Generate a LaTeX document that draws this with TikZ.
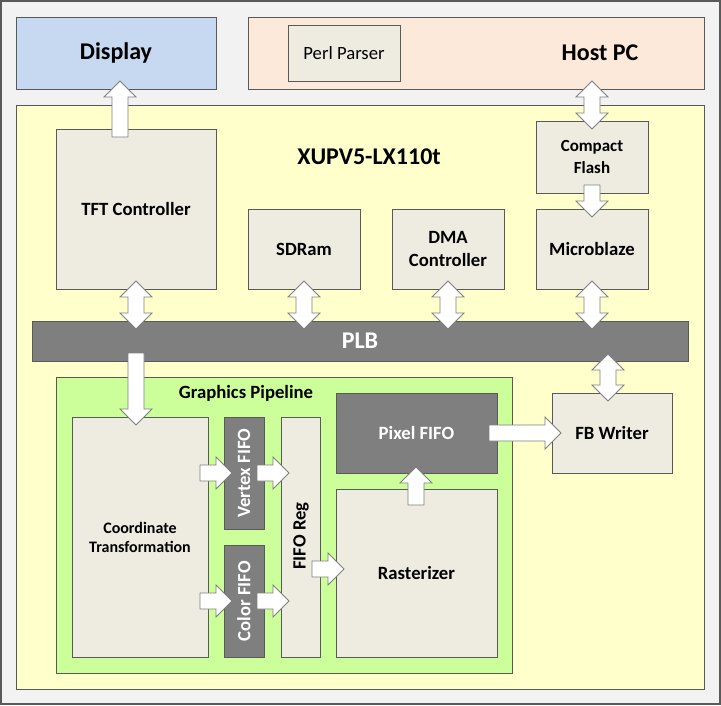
\documentclass[tikz,border=0pt]{standalone}
\usepackage{fontspec}
\setmainfont{Carlito}
\definecolor{frame}{HTML}{595959}
\definecolor{bgc}{HTML}{F2F2F2}
\definecolor{dispc}{HTML}{C6D9F1}
\definecolor{hostc}{HTML}{FDE9D9}
\definecolor{lightc}{HTML}{EEECE1}
\definecolor{yelc}{HTML}{FFFFCC}
\definecolor{grnc}{HTML}{CCFF99}
\definecolor{darkc}{HTML}{7F7F7F}
\newcommand\bx[7]{\node[#6,minimum width={#4-#2},minimum height={#5-#3},inner sep=0pt] (#1) at ({(#2+#4)/2},{(#3+#5)/2}) {#7};}
% vertical single arrow: x, ytail, ytip, h (+16 down, -16 up)
\newcommand\varr[4]{\draw[blkarrow] (#1-8,#2) -- (#1+8,#2) -- (#1+8,#3-#4) -- (#1+16,#3-#4) -- (#1,#3) -- (#1-16,#3-#4) -- (#1-8,#3-#4) -- cycle;}
% horizontal single arrow to the right: y, xtail, xtip
\newcommand\harr[3]{\draw[blkarrow] (#2,#1-8) -- (#3-16,#1-8) -- (#3-16,#1-16) -- (#3,#1) -- (#3-16,#1+16) -- (#3-16,#1+8) -- (#2,#1+8) -- cycle;}
% vertical double arrow: x, ytop, ybot
\newcommand\vdbl[3]{\draw[blkarrow] (#1,#2) -- (#1+16,#2+16) -- (#1+8,#2+16) -- (#1+8,#3-16) -- (#1+16,#3-16) -- (#1,#3) -- (#1-16,#3-16) -- (#1-8,#3-16) -- (#1-8,#2+16) -- (#1-16,#2+16) -- cycle;}
\tikzset{
  boxline/.style={draw=frame,line width=0.9pt},
  lightbox/.style={boxline,fill=lightc,align=center,font=\fontsize{18.7}{23}\selectfont\bfseries},
  darkbox/.style={boxline,fill=darkc,text=white,align=center,font=\fontsize{18.7}{23}\selectfont\bfseries},
  blkarrow/.style={draw=darkc,fill=white,line width=0.8pt,line join=miter},
  bigtxt/.style={font=\fontsize{24}{28}\selectfont\bfseries},
  midtxt/.style={font=\fontsize{18.7}{23}\selectfont\bfseries},
}
\begin{document}
\begin{tikzpicture}[x=1pt,y=-1pt]
\useasboundingbox (0,0) rectangle (721,705);
\node[draw=frame,fill=bgc,line width=2.5pt,minimum width=719pt,minimum height=703pt,inner sep=0pt] (outer) at (360.5,352.5) {};
% top row
\bx{display}{16}{17}{216}{89}{boxline,fill=dispc,bigtxt}{Display}
\bx{host}{248}{17}{704}{89}{boxline,fill=hostc}{}
\node[bigtxt] (hostlbl) at (600,53) {Host PC};
\bx{perl}{288}{25}{400}{81}{boxline,fill=lightc,font=\fontsize{18.7}{23}\selectfont}{Perl Parser}
% board
\bx{board}{16}{105}{704}{689}{boxline,fill=yelc}{}
\node[bigtxt] (boardlbl) at (369,157) {XUPV5-LX110t};
\bx{tft}{56}{129}{216}{289}{lightbox}{TFT Controller}
\bx{cf}{536}{121}{648}{193}{lightbox,font=\fontsize{17}{22}\selectfont\bfseries}{Compact\\Flash}
\bx{sdram}{248}{209}{360}{289}{lightbox}{SDRam}
\bx{dma}{392}{209}{504}{289}{lightbox}{DMA\\Controller}
\bx{mb}{536}{209}{648}{289}{lightbox}{Microblaze}
\bx{plb}{32}{321}{688}{361}{darkbox,font=\fontsize{24}{28}\selectfont\bfseries}{PLB}
\bx{fbw}{552}{393}{672}{473}{lightbox}{FB Writer}
% graphics pipeline
\bx{gp}{56}{377}{512}{673}{boxline,fill=grnc}{}
\node[midtxt] (gplbl) at (246,393) {Graphics Pipeline};
\bx{coord}{72}{417}{208}{657}{lightbox,font=\fontsize{16}{19}\selectfont\bfseries}{Coordinate\\Transformation}
\bx{vfifo}{224}{417}{264}{529}{darkbox}{}
\node[midtxt,text=white,rotate=90] (vfifolbl) at (244,473) {Vertex FIFO};
\bx{cfifo}{224}{545}{264}{657}{darkbox}{}
\node[midtxt,text=white,rotate=90] (cfifolbl) at (244,601) {Color FIFO};
\bx{freg}{281}{417}{320}{657}{lightbox}{}
\node[midtxt,rotate=90] (freglbl) at (301,536) {FIFO Reg};
\bx{pfifo}{336}{393}{497}{473}{darkbox}{Pixel FIFO}
\bx{rast}{336}{489}{497}{657}{lightbox}{Rasterizer}
% arrows
\varr{120}{137}{81}{-16}
\vdbl{592}{81}{129}
\varr{592}{185}{217}{16}
\vdbl{136}{281}{329}
\vdbl{304}{281}{329}
\vdbl{448}{281}{329}
\vdbl{592}{281}{329}
\vdbl{608}{354}{401}
\varr{136}{353}{425}{16}
\harr{473}{200}{232}
\harr{473}{257}{289}
\harr{601}{200}{232}
\harr{601}{257}{289}
\harr{569}{312}{344}
\varr{416}{505}{467}{-16}
\harr{433}{489}{561}
\end{tikzpicture}
\end{document}
